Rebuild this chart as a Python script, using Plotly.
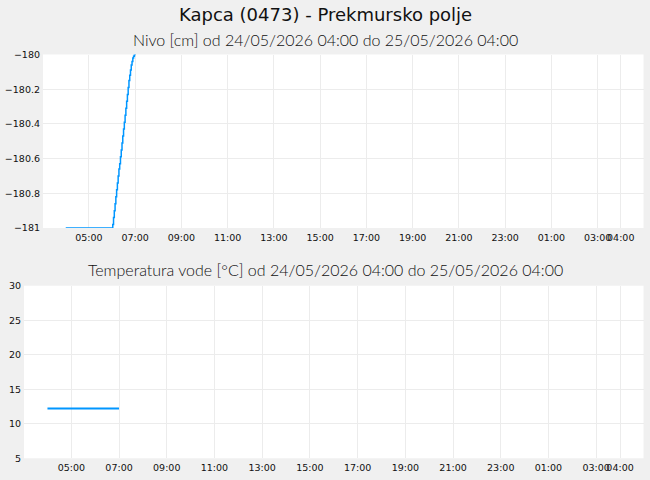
import plotly.graph_objects as go

# Nivo [cm] - meritve (stopnicasta crta)
nivo_cas = [
    "2026-05-24 04:00", "2026-05-24 05:00", "2026-05-24 06:00",
    "2026-05-24 06:02", "2026-05-24 06:04", "2026-05-24 06:06",
    "2026-05-24 06:08", "2026-05-24 06:10", "2026-05-24 06:12",
    "2026-05-24 06:14", "2026-05-24 06:16", "2026-05-24 06:18",
    "2026-05-24 06:20", "2026-05-24 06:22", "2026-05-24 06:24",
    "2026-05-24 06:26", "2026-05-24 06:28", "2026-05-24 06:30",
    "2026-05-24 06:32", "2026-05-24 06:34", "2026-05-24 06:36",
    "2026-05-24 06:38", "2026-05-24 06:40", "2026-05-24 06:42",
    "2026-05-24 06:44", "2026-05-24 06:46", "2026-05-24 06:48",
    "2026-05-24 06:50", "2026-05-24 06:52", "2026-05-24 06:54",
    "2026-05-24 06:56", "2026-05-24 06:58", "2026-05-24 07:00",
]
nivo_vrednosti = [
    -181.0, -181.0, -181.0,
    -180.98, -180.94, -180.90,
    -180.86, -180.82, -180.78,
    -180.74, -180.70, -180.66,
    -180.63, -180.59, -180.55,
    -180.51, -180.47, -180.43,
    -180.39, -180.35, -180.31,
    -180.27, -180.23, -180.19,
    -180.15, -180.12, -180.09,
    -180.06, -180.04, -180.02,
    -180.01, -180.0, -179.98,
]

# Temperatura vode [°C]
temp_cas = ["2026-05-24 04:00", "2026-05-24 05:00", "2026-05-24 06:00", "2026-05-24 07:00"]
temp_vrednosti = [12.2, 12.2, 12.2, 12.2]

# oznake na x osi
x_oznake = [
    "2026-05-24 05:00", "2026-05-24 07:00", "2026-05-24 09:00", "2026-05-24 11:00",
    "2026-05-24 13:00", "2026-05-24 15:00", "2026-05-24 17:00", "2026-05-24 19:00",
    "2026-05-24 21:00", "2026-05-24 23:00", "2026-05-25 01:00", "2026-05-25 03:00",
    "2026-05-25 04:00",
]
x_besedila = [t[-5:] for t in x_oznake]
x_obseg = ["2026-05-24 03:01", "2026-05-25 04:59"]

naslov = "Kapca (0473) - Prekmursko polje"
podnaslov_nivo = "Nivo [cm] od 24/05/2026 04:00 do 25/05/2026 04:00"
podnaslov_temp = "Temperatura vode [°C] od 24/05/2026 04:00 do 25/05/2026 04:00"

W, H = 650, 480
barva = "#0096ff"
mreza = "#ececec"
tick_font = dict(family="DejaVu Sans", size=9.5, color="#111111")


def py(px):
    # pixel od vrha -> paper koordinata
    return 1 - px / H


fig = go.Figure()

fig.add_trace(go.Scatter(
    x=nivo_cas, y=nivo_vrednosti, mode="lines", line_shape="hv",
    line=dict(color=barva, width=1.5), xaxis="x", yaxis="y",
    hoverinfo="x+y",
))
fig.add_trace(go.Scatter(
    x=temp_cas, y=temp_vrednosti, mode="lines",
    line=dict(color=barva, width=2), xaxis="x2", yaxis="y2",
    hoverinfo="x+y",
))

os_x = dict(
    type="date", range=x_obseg, tickvals=x_oznake, ticktext=x_besedila,
    showgrid=True, gridcolor=mreza, gridwidth=1, zeroline=False,
    showline=False, ticks="", tickfont=tick_font, fixedrange=True,
    tickangle=0, ticklabelstandoff=2, automargin=False,
)
fig.update_layout(
    width=W, height=H,
    paper_bgcolor="#f0f0f0", plot_bgcolor="#ffffff",
    margin=dict(l=0, r=0, t=0, b=0, pad=0, autoexpand=False),
    showlegend=False,
    xaxis=dict(os_x, domain=[43 / W, 643.5 / W], anchor="y"),
    yaxis=dict(
        domain=[py(228), py(54.5)], range=[-181, -180], dtick=0.2,
        tick0=-181, showgrid=True, gridcolor=mreza, zeroline=False,
        ticks="", tickfont=tick_font, anchor="x", ticklabelstandoff=2,
        automargin=False,
    ),
    xaxis2=dict(os_x, domain=[24 / W, 643.5 / W], anchor="y2"),
    yaxis2=dict(
        domain=[py(458.3), py(285.7)], range=[5, 30], dtick=5,
        showgrid=True, gridcolor=mreza, zeroline=False,
        ticks="", tickfont=tick_font, anchor="x2", ticklabelstandoff=2,
        automargin=False,
    ),
    annotations=[
        dict(text=naslov, x=0.5, y=py(14), xref="paper", yref="paper",
             showarrow=False, xanchor="center", yanchor="middle",
             font=dict(family="DejaVu Sans", size=18, color="#111111")),
        dict(text=podnaslov_nivo, x=0.5, y=py(39), xref="paper", yref="paper",
             showarrow=False, xanchor="center", yanchor="middle",
             font=dict(family="Lato", size=16, color="#111111", weight=300)),
        dict(text=podnaslov_temp, x=0.5, y=py(269), xref="paper", yref="paper",
             showarrow=False, xanchor="center", yanchor="middle",
             font=dict(family="Lato", size=16, color="#111111", weight=300)),
    ],
)

fig.write_html(
    "out.html",
    config={"displayModeBar": False},
    post_script="document.body.style.margin='0';document.body.style.overflow='hidden';",
)
